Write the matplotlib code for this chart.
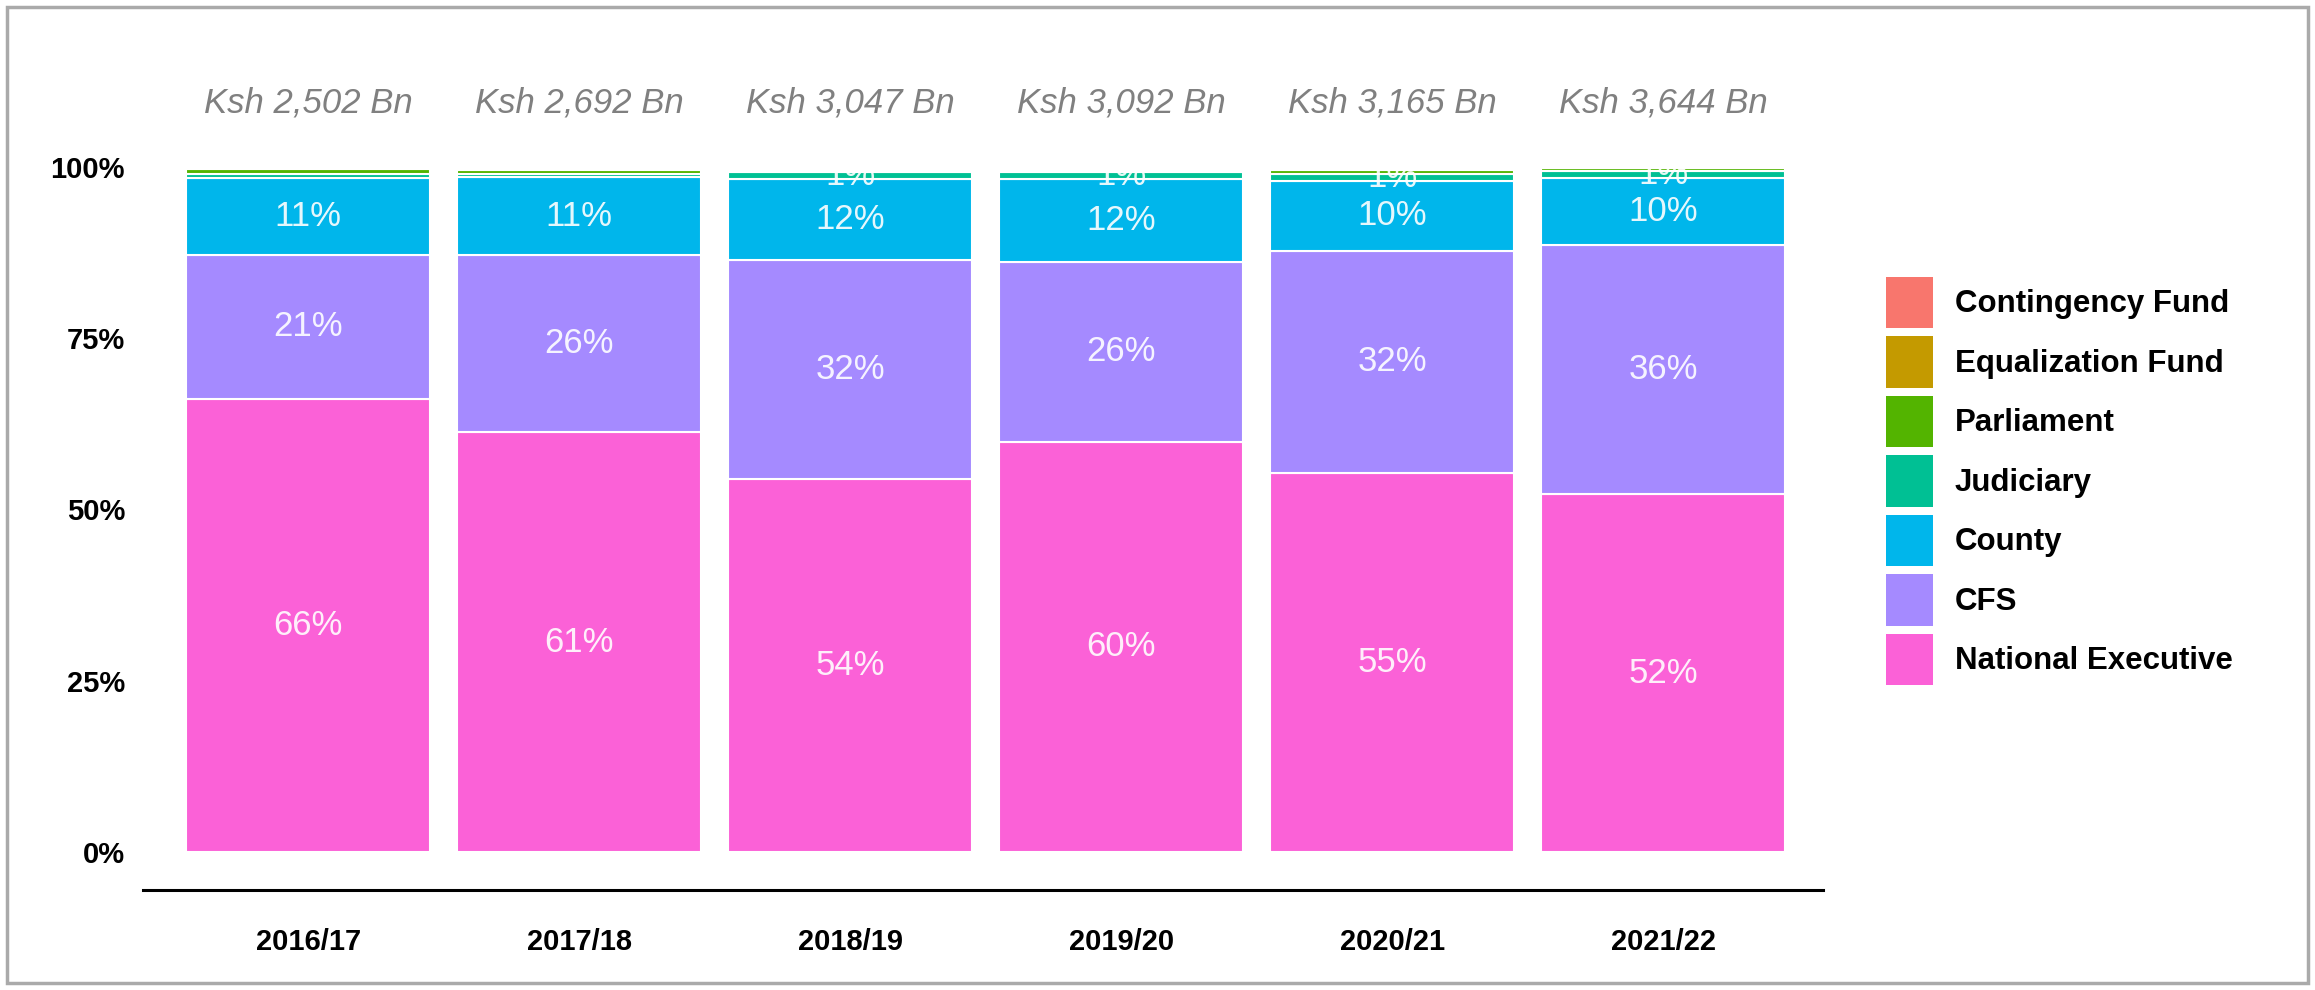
import numpy as np
import matplotlib
matplotlib.use("Agg")
import matplotlib.pyplot as plt
from matplotlib import font_manager
from matplotlib.patches import Patch, Rectangle

# data (shares in %)
years = ["2016/17", "2017/18", "2018/19", "2019/20", "2020/21", "2021/22"]
totals = ["Ksh 2,502 Bn", "Ksh 2,692 Bn", "Ksh 3,047 Bn",
          "Ksh 3,092 Bn", "Ksh 3,165 Bn", "Ksh 3,644 Bn"]

national_exec = [66.2, 61.3, 54.5, 59.9, 55.4, 52.2]
cfs = [20.9, 25.8, 31.9, 26.3, 32.4, 36.4]
county = [11.3, 11.4, 11.8, 12.0, 10.2, 9.8]
judiciary = [0.6, 0.5, 1.0, 1.0, 1.0, 1.0]
parliament = [0.7, 0.6, 0.4, 0.4, 0.5, 0.4]
equalization = [0.2, 0.3, 0.3, 0.3, 0.4, 0.1]
contingency = [0.1, 0.1, 0.1, 0.1, 0.1, 0.1]

# bottom to top
series = [
    ("National Executive", national_exec, "#FB61D7"),
    ("CFS", cfs, "#A58AFF"),
    ("County", county, "#00B6EB"),
    ("Judiciary", judiciary, "#00C094"),
    ("Parliament", parliament, "#53B400"),
    ("Equalization Fund", equalization, "#C49A00"),
    ("Contingency Fund", contingency, "#F8766D"),
]

names = {f.name for f in font_manager.fontManager.ttflist}
narrow = "Liberation Sans Narrow" if "Liberation Sans Narrow" in names else "Liberation Sans"
nsize = 30 if narrow == "Liberation Sans Narrow" else 25

fig = plt.figure(figsize=(23.15, 9.9), dpi=100)
ax = fig.add_axes([143 / 2315, 1 - 890 / 990, 1680 / 2315, (890 - 167) / 990])

x = np.arange(len(years))
bottom = np.zeros(len(years))
for name, vals, col in series:
    vals = np.array(vals)
    ax.bar(x, vals, 0.9, bottom=bottom, color=col, edgecolor="white", linewidth=1.5)
    for xi, b, v in zip(x, bottom, vals):
        if v >= 1:
            ax.text(xi, b + v / 2, f"{v:.0f}%", ha="center", va="center",
                    color="white", alpha=0.9, fontsize=nsize, family=narrow)
    bottom += vals

for xi, t in zip(x, totals):
    ax.text(xi, 109.3, t, ha="center", va="center", color="#808080",
            fontsize=nsize, style="italic", family=narrow, clip_on=False)

ax.set_xlim(-0.61, 5.59)
ax.set_ylim(-5.55, 100)
ax.set_yticks([0, 25, 50, 75, 100])
ax.set_yticklabels(["0%", "25%", "50%", "75%", "100%"])
ax.set_xticks(x)
ax.set_xticklabels(years)
for s in ["top", "right", "left"]:
    ax.spines[s].set_visible(False)
ax.spines["bottom"].set_linewidth(2.2)
ax.tick_params(axis="both", length=0)
ax.tick_params(axis="y", pad=13)
ax.tick_params(axis="x", pad=27)
for lab in ax.get_xticklabels() + ax.get_yticklabels():
    lab.set_fontsize(21)
    lab.set_fontweight("bold")
    lab.set_family("Liberation Sans")

handles = [Patch(facecolor=c, edgecolor="none", label=n) for n, v, c in series[::-1]]
fig.legend(handles=handles, loc="upper left", bbox_to_anchor=(1886 / 2315, 1 - 277 / 990),
           frameon=False, prop={"family": "Liberation Sans", "weight": "bold", "size": 22.5},
           handlelength=1.5, handleheight=2.15, labelspacing=0.26, handletextpad=0.7,
           borderaxespad=0, borderpad=0)

fig.patches.append(Rectangle((7 / 2315, 1 - 983 / 990), 2301 / 2315, 976 / 990,
                             transform=fig.transFigure, fill=False,
                             edgecolor="#aaaaaa", linewidth=2.5))

fig.savefig("out.png", dpi=100)
